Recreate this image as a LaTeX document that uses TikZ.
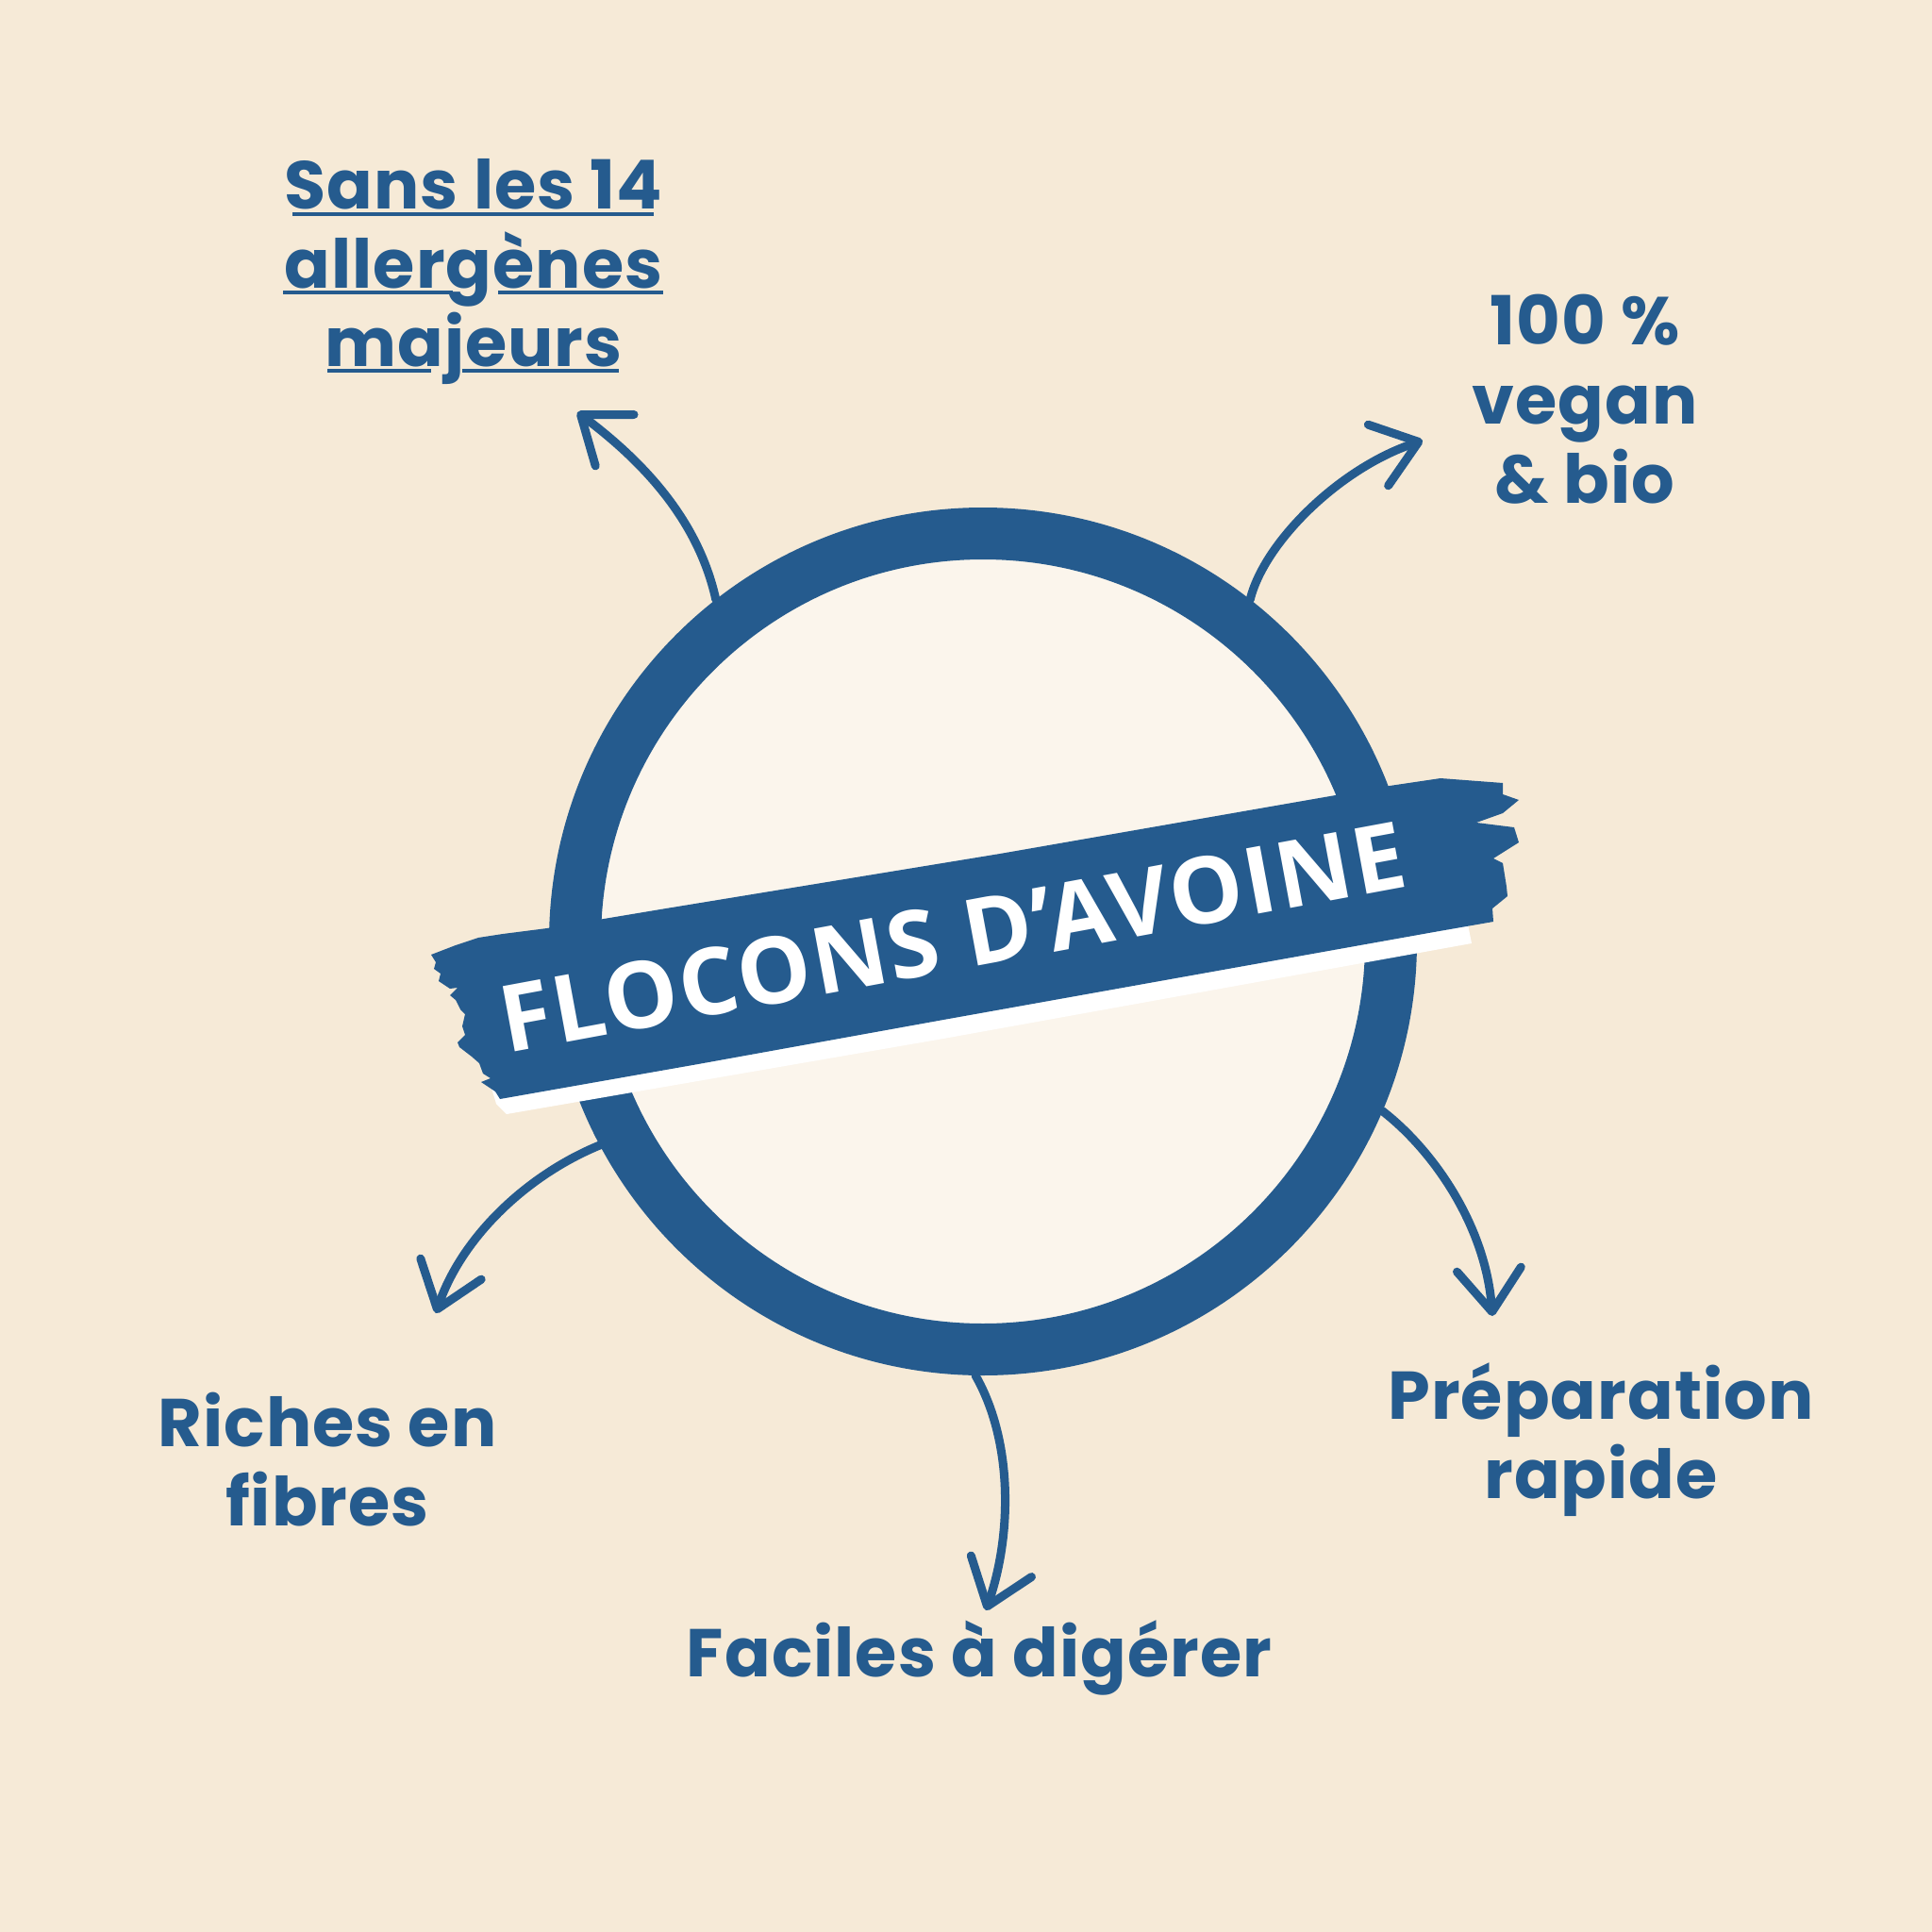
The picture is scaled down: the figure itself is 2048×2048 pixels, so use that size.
\documentclass[tikz,border=0pt]{standalone}
\usepackage{fontspec}
\newfontfamily\perkfont[LetterSpace=1.5]{Poppins}
\newfontfamily\bannerfont[LetterSpace=2]{Open Sans}
\usetikzlibrary{arrows.meta}
\definecolor{oatblue}{RGB}{37,91,142}
\definecolor{oatbg}{RGB}{246,234,215}
\definecolor{oatcream}{RGB}{251,245,236}
\tikzset{
  perk/.style={text=oatblue, align=center, anchor=base, inner sep=0pt,
    font=\perkfont\bfseries\fontsize{20.4}{23.8}\selectfont},
  pointer/.style={draw=oatblue, line width=0.9mm, line cap=round,
    -{Straight Barb[length=4.5mm, width=6.8mm, round]}},
  underbar/.style={draw=oatblue, line width=0.45mm}
}

\begin{document}
\begin{tikzpicture}[x=0.1mm, y=-0.1mm]
  \fill[oatbg] (0,0) rectangle (2048,2048);

  \node[circle, draw=oatblue, line width=5.5mm, fill=oatcream, minimum size=86.5mm, inner sep=0pt] (bowl) at (1042,998) {};

  \fill[white] (520,1150) -- (1555,975) -- (1560,1000) -- (1000,1101) -- (537,1181) -- (526,1170) -- cycle;
  \fill[oatblue] (457,1012) -- (483,1002) -- (507,994) -- (533,990) -- (580,984) -- (700,964) -- (1060,905)
    -- (1473,833) -- (1527,825) -- (1593,830) -- (1593,842) -- (1610,848) -- (1593,862) -- (1565,872)
    -- (1605,877) -- (1610,893) -- (1583,910) -- (1593,915) -- (1597,940) -- (1598,950) -- (1582,963)
    -- (1583,977) -- (1520,988) -- (1000,1081) -- (740,1128) -- (530,1165) -- (525,1157)
    -- (510,1147) -- (520,1143) -- (512,1138) -- (508,1127) -- (500,1120) -- (487,1110) -- (485,1105)
    -- (493,1097) -- (490,1088) -- (493,1075) -- (488,1070) -- (483,1060) -- (477,1055) -- (485,1047)
    -- (477,1048) -- (465,1040) -- (467,1032) -- (460,1027) -- (462,1020) -- cycle;
  \node[text=white, font=\bannerfont\bfseries\fontsize{28}{30}\selectfont, rotate=10.5, anchor=base, inner sep=0pt] (title) at (1016,1028) {FLOCONS D’AVOINE};

  \node[perk] (sans) at (502,389) {Sans les 14\\allergènes\\majeurs};
  \node[perk] (vegan) at (1680,533) {100 \%\\vegan\\\& bio};
  \node[perk] (fibres) at (347,1617) {Riches en\\fibres};
  \node[perk] (digerer) at (1038,1777) {Faciles à digérer};
  \node[perk] (rapide) at (1697,1588) {Préparation\\rapide};

  \draw[underbar] (310,227) -- (693,227);
  \draw[underbar] (300,310) -- (480,310);
  \draw[underbar] (528,310) -- (703,310);
  \draw[underbar] (347,393) -- (457,393);
  \draw[underbar] (490,393) -- (656,393);

  \coordinate (toSans) at (612,437);
  \coordinate (toVegan) at (1508,467);
  \coordinate (toFibres) at (462,1392);
  \coordinate (toDigerer) at (1045,1707);
  \coordinate (toRapide) at (1582,1395);

  \draw[pointer] (bowl.128) .. controls (740,550) and (680,488) .. (toSans);
  \draw[pointer] (bowl.52) .. controls (1340,575) and (1420,496) .. (toVegan);
  \draw[pointer] (bowl.208) .. controls (560,1245) and (490,1310) .. (toFibres);
  \draw[pointer] (bowl.269) .. controls (1075,1530) and (1072,1630) .. (toDigerer);
  \draw[pointer] (bowl.337) .. controls (1520,1220) and (1575,1300) .. (toRapide);
\end{tikzpicture}
\end{document}
